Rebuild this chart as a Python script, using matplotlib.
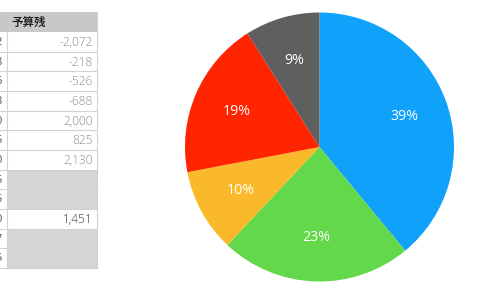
import matplotlib
matplotlib.use("Agg")
import matplotlib.pyplot as plt
from matplotlib.patches import Rectangle
import numpy as np

plt.rcParams['font.family'] = ['Noto Sans CJK JP', 'DejaVu Sans']

# Pie data
shares = [39, 23, 10, 19, 9]
colors = ['#10a2fb', '#62d84a', '#f9b92a', '#fe2500', '#5f5f5f']
pct_labels = ['39%', '23%', '10%', '19%', '9%']

# Table data
header = '予算残'
budget_left = ['2', '8', '6', '8', '0', '5', '0', '5', '5', '0', '7', '5']
budget_rest = ['-2,072', '-218', '-526', '-688', '2,000', '825', '2,130', None, None, '1,451', None, None]

W, H = 500, 294
fig = plt.figure(figsize=(W / 100, H / 100), dpi=100)

# Table axes in pixel coordinates
tax = fig.add_axes([0, 0, 1, 1])
tax.set_xlim(0, W)
tax.set_ylim(H, 0)
tax.axis('off')

x0, xdiv, x1 = -5, 6.5, 96.5
ytop, yh = 12, 20
row_h = 19.67
line_c = '#d2d2d2'
num_font = ['Open Sans', 'DejaVu Sans']
# header
tax.add_patch(Rectangle((x0, ytop), x1 - x0, yh, facecolor='#c8c8c8', edgecolor='none'))
tax.text(11.5, ytop + yh / 2, header, fontsize=8.3, color='#111111', va='center', ha='left', fontweight='medium')
for i, v in enumerate(budget_rest):
    y = ytop + yh + i * row_h
    if v is None:
        tax.add_patch(Rectangle((xdiv, y), x1 - xdiv, row_h, facecolor='#d5d5d5', edgecolor='none'))
    else:
        col = '#333333' if i == 9 else '#8c8c8c'
        tax.text(92.5, y + row_h / 2 + 0.5, v, fontsize=8.6, color=col, va='center', ha='right',
                 family=num_font, fontweight='light')
    tax.text(2.2, y + row_h / 2 + 0.5, budget_left[i], fontsize=8.0, color='#555555', va='center', ha='right',
             family=num_font)
    tax.plot([x0, x1], [y + row_h, y + row_h], color=line_c, lw=0.8)
tax.plot([xdiv, xdiv], [ytop + yh, ytop + yh + 12 * row_h], color=line_c, lw=0.8)
tax.plot([x1, x1], [ytop, ytop + yh + 12 * row_h], color=line_c, lw=0.8)

# Pie axes
cx, cy, r = 319.5, 147, 134.5
pax = fig.add_axes([(cx - r) / W, (H - cy - r) / H, 2 * r / W, 2 * r / H])
wedges, texts = pax.pie(shares, colors=colors, startangle=90, counterclock=False,
                        wedgeprops=dict(linewidth=0))
for w, lab in zip(wedges, pct_labels):
    ang = np.deg2rad((w.theta1 + w.theta2) / 2)
    pax.text(0.67 * np.cos(ang), 0.67 * np.sin(ang), lab, color='white', fontsize=10.2,
             ha='center', va='center', family=num_font)
pax.set_xlim(-1, 1)
pax.set_ylim(-1, 1)
pax.set_aspect('equal')
pax.axis('off')

fig.savefig('out.png', dpi=100)
